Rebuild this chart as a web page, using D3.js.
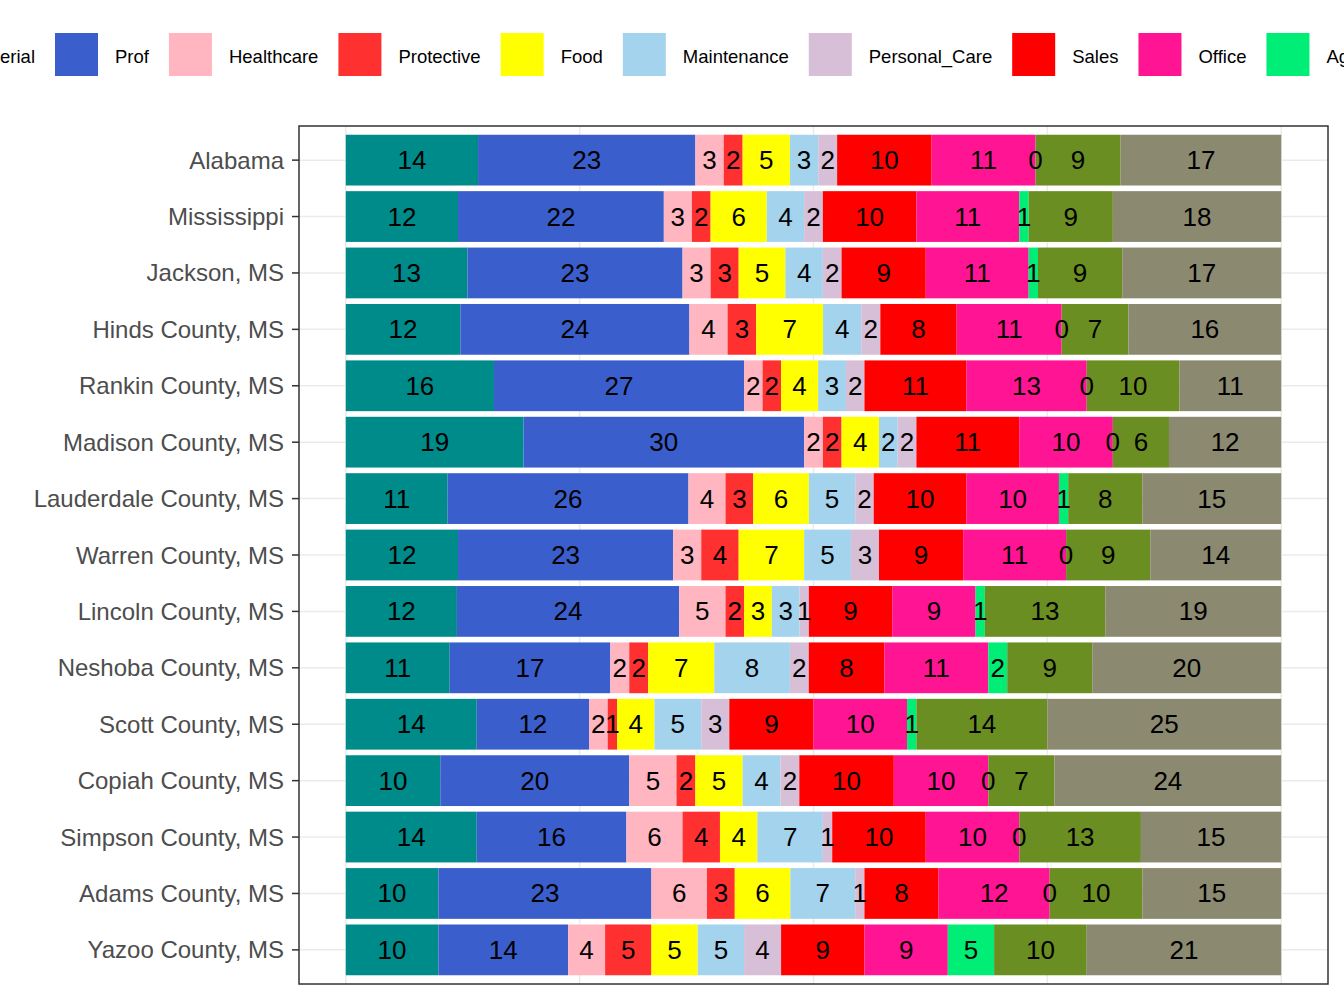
<!DOCTYPE html>
<html><head><meta charset="utf-8">
<script src="https://cdn.jsdelivr.net/npm/d3@7"></script>
<style>body{margin:0;background:#fff;font-family:Arial,"Liberation Sans",sans-serif}</style>
</head><body><div id="chart"></div>
<script>
const places = ["Alabama","Mississippi","Jackson, MS","Hinds County, MS","Rankin County, MS","Madison County, MS",
  "Lauderdale County, MS","Warren County, MS","Lincoln County, MS","Neshoba County, MS","Scott County, MS",
  "Copiah County, MS","Simpson County, MS","Adams County, MS","Yazoo County, MS"];
const groups = ["Managerial","Prof","Healthcare","Protective","Food","Maintenance","Personal_Care","Sales","Office","Agriculture","Construction","Production"];
const colors = ["#008B8B","#3A5FCD","#FFB6C1","#FF3030","#FFFF00","#A4D3EE","#D8BFD8","#FF0000","#FF1493","#00EE76","#6B8E23","#8B8970"];
const values = [
  [14,23,3,2,5,3,2,10,11,0,9,17],
  [12,22,3,2,6,4,2,10,11,1,9,18],
  [13,23,3,3,5,4,2,9,11,1,9,17],
  [12,24,4,3,7,4,2,8,11,0,7,16],
  [16,27,2,2,4,3,2,11,13,0,10,11],
  [19,30,2,2,4,2,2,11,10,0,6,12],
  [11,26,4,3,6,5,2,10,10,1,8,15],
  [12,23,3,4,7,5,3,9,11,0,9,14],
  [12,24,5,2,3,3,1,9,9,1,13,19],
  [11,17,2,2,7,8,2,8,11,2,9,20],
  [14,12,2,1,4,5,3,9,10,1,14,25],
  [10,20,5,2,5,4,2,10,10,0,7,24],
  [14,16,6,4,4,7,1,10,10,0,13,15],
  [10,23,6,3,6,7,1,8,12,0,10,15],
  [10,14,4,5,5,5,4,9,9,5,10,21]
];

const W = 1344, H = 1008;
const svg = d3.select("#chart").append("svg").attr("width", W).attr("height", H);
const panel = {l: 299, r: 1328, t: 126, b: 984};

const pad = (panel.r - panel.l) / 1.1 * 0.05;
const x = d3.scaleLinear().domain([0, 1]).range([panel.l + pad, panel.r - pad]);
const y = d3.scaleBand().domain(places).range([panel.t, panel.b]).paddingInner(0.1).paddingOuter(0.155);

// grid
const g = svg.append("g");
g.selectAll(".vg").data([0, .25, .5, .75, 1]).enter().append("line")
  .attr("x1", d => x(d)).attr("x2", d => x(d)).attr("y1", panel.t).attr("y2", panel.b)
  .attr("stroke", "#ebebeb").attr("stroke-width", 1.5);
g.selectAll(".hg").data(places).enter().append("line")
  .attr("x1", panel.l).attr("x2", panel.r)
  .attr("y1", d => y(d) + y.bandwidth() / 2).attr("y2", d => y(d) + y.bandwidth() / 2)
  .attr("stroke", "#ebebeb").attr("stroke-width", 1.5);

// bars, then labels on top
const bars = svg.append("g"), labels = svg.append("g");
places.forEach((p, i) => {
  const tot = d3.sum(values[i]);
  let cum = 0;
  values[i].forEach((v, j) => {
    const x0 = x(cum / tot), x1 = x((cum + v) / tot);
    cum += v;
    bars.append("rect").attr("x", x0).attr("y", y(p)).attr("width", x1 - x0).attr("height", y.bandwidth())
      .attr("fill", colors[j]);
    labels.append("text").attr("x", (x0 + x1) / 2).attr("y", y(p) + y.bandwidth() / 2)
      .attr("text-anchor", "middle").attr("dominant-baseline", "central")
      .attr("font-size", 26).attr("fill", "#000").text(v);
  });
});

svg.append("rect").attr("x", panel.l).attr("y", panel.t).attr("width", panel.r - panel.l).attr("height", panel.b - panel.t)
  .attr("fill", "none").attr("stroke", "#333").attr("stroke-width", 1.5);

// y axis
places.forEach(p => {
  const cy = y(p) + y.bandwidth() / 2;
  svg.append("line").attr("x1", panel.l - 7).attr("x2", panel.l).attr("y1", cy).attr("y2", cy).attr("stroke", "#333").attr("stroke-width", 1.5);
  svg.append("text").attr("x", panel.l - 15).attr("y", cy).attr("text-anchor", "end").attr("dominant-baseline", "central")
    .attr("font-size", 24).attr("fill", "#4d4d4d").text(p);
});

// legend
const leg = svg.append("g");
let cx = 0, profX = 0;
groups.forEach((name, j) => {
  if (j === 1) profX = cx;
  leg.append("rect").attr("x", cx).attr("y", 33).attr("width", 43).attr("height", 43).attr("fill", colors[j]);
  const t = leg.append("text").attr("x", cx + 60).attr("y", 56).attr("dominant-baseline", "central")
    .attr("font-size", 18.5).attr("fill", "#000").text(name);
  cx += 60 + t.node().getComputedTextLength() + 20;
});
leg.attr("transform", `translate(${55 - profX},0)`);
</script>
</body></html>
